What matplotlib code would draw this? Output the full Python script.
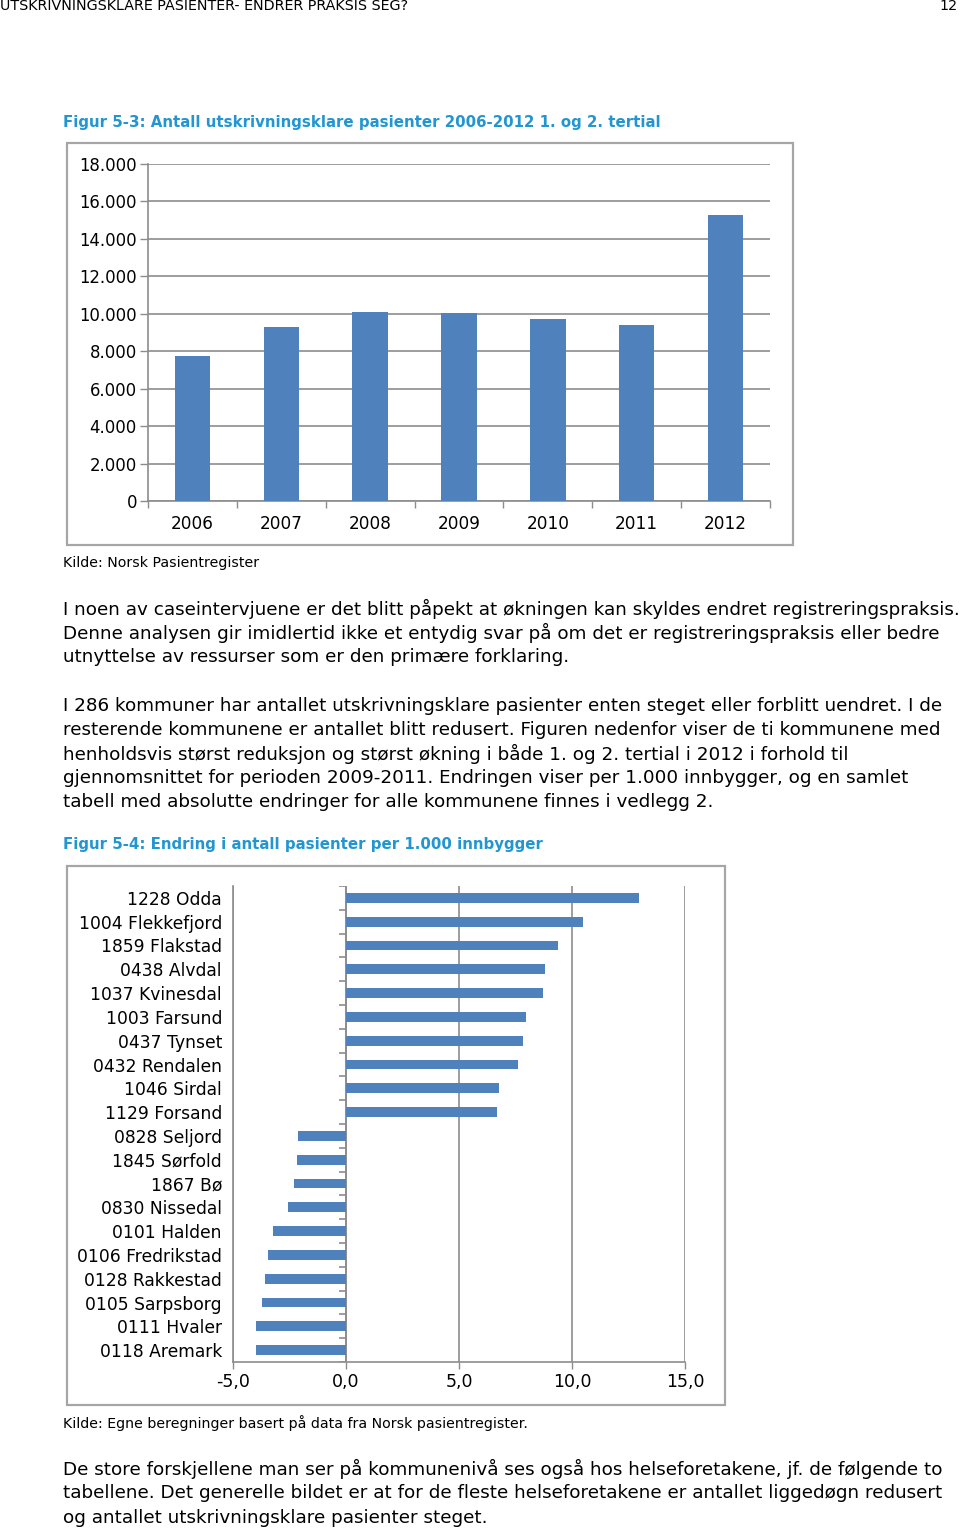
import numpy as np
import matplotlib.pyplot as plt
from matplotlib.patches import Rectangle

# data: figur 5-3
years = ["2006", "2007", "2008", "2009", "2010", "2011", "2012"]
pasienter = [7770, 9320, 10120, 10030, 9730, 9410, 15290]
y_ticks = [0, 2000, 4000, 6000, 8000, 10000, 12000, 14000, 16000, 18000]
y_ticklabels = ["0", "2.000", "4.000", "6.000", "8.000", "10.000",
                "12.000", "14.000", "16.000", "18.000"]

# data: figur 5-4
kommuner = ["1228 Odda", "1004 Flekkefjord", "1859 Flakstad", "0438 Alvdal",
            "1037 Kvinesdal", "1003 Farsund", "0437 Tynset", "0432 Rendalen",
            "1046 Sirdal", "1129 Forsand", "0828 Seljord", "1845 Sørfold",
            "1867 Bø", "0830 Nissedal", "0101 Halden", "0106 Fredrikstad",
            "0128 Rakkestad", "0105 Sarpsborg", "0111 Hvaler", "0118 Aremark"]
endring = [12.95, 10.5, 9.37, 8.82, 8.7, 7.96, 7.83, 7.63, 6.76, 6.68,
           -2.11, -2.18, -2.32, -2.58, -3.24, -3.45, -3.58, -3.72, -3.98, -3.98]
x_ticks = [-5, 0, 5, 10, 15]
x_ticklabels = ["-5,0", "0,0", "5,0", "10,0", "15,0"]

header = "UTSKRIVNINGSKLARE PASIENTER- ENDRER PRAKSIS SEG?"
fig1_title = "Figur 5-3: Antall utskrivningsklare pasienter 2006-2012 1. og 2. tertial"
fig2_title = "Figur 5-4: Endring i antall pasienter per 1.000 innbygger"
kilde1 = "Kilde: Norsk Pasientregister"
kilde2 = "Kilde: Egne beregninger basert på data fra Norsk pasientregister."
para1 = [
    "I noen av caseintervjuene er det blitt påpekt at økningen kan skyldes endret registreringspraksis.",
    "Denne analysen gir imidlertid ikke et entydig svar på om det er registreringspraksis eller bedre",
    "utnyttelse av ressurser som er den primære forklaring.",
]
para2 = [
    "I 286 kommuner har antallet utskrivningsklare pasienter enten steget eller forblitt uendret. I de",
    "resterende kommunene er antallet blitt redusert. Figuren nedenfor viser de ti kommunene med",
    "henholdsvis størst reduksjon og størst økning i både 1. og 2. tertial i 2012 i forhold til",
    "gjennomsnittet for perioden 2009-2011. Endringen viser per 1.000 innbygger, og en samlet",
    "tabell med absolutte endringer for alle kommunene finnes i vedlegg 2.",
]
para3 = [
    "De store forskjellene man ser på kommunenivå ses også hos helseforetakene, jf. de følgende to",
    "tabellene. Det generelle bildet er at for de fleste helseforetakene er antallet liggedøgn redusert",
    "og antallet utskrivningsklare pasienter steget.",
]

BLUE = "#4F81BD"
TITLE = "#2396D2"
GRID = "#8C8C8C"
FRAME = "#A6A6A6"
W, H = 960, 1529

plt.rcParams["font.family"] = ["DejaVu Sans"]
fig = plt.figure(figsize=(W / 100, H / 100), dpi=100)


def fx(x):
    return x / W


def fy(y):
    return 1 - y / H


def txt(x, y, s, **kw):
    fig.text(fx(x), fy(y), s, va="center", ha=kw.pop("ha", "left"), **kw)


def frame(x0, y0, x1, y1):
    fig.patches.append(Rectangle((fx(x0), fy(y1)), fx(x1) - fx(x0), fy(y0) - fy(y1),
                                 transform=fig.transFigure, fill=False,
                                 edgecolor=FRAME, lw=1.6))


# page text
txt(0, 6, header, fontsize=10.3)
txt(958, 6, "12", fontsize=10.3, ha="right")
txt(63, 122, fig1_title, fontsize=10.8, fontweight="bold", color=TITLE)
txt(63, 563, kilde1, fontsize=10.2)
for i, line in enumerate(para1):
    txt(63, 609 + 24.2 * i, line, fontsize=13.2)
for i, line in enumerate(para2):
    txt(63, 706 + 24.1 * i, line, fontsize=13.2)
txt(63, 845, fig2_title, fontsize=10.8, fontweight="bold", color=TITLE)
txt(63, 1423, kilde2, fontsize=10.2)
for i, line in enumerate(para3):
    txt(63, 1469 + 24.5 * i, line, fontsize=13.2)

# figur 5-3
frame(67, 143, 793, 545)
ax1 = fig.add_axes([fx(148), fy(501), fx(770) - fx(148), fy(164) - fy(501)])
xs = np.arange(len(years))
ax1.bar(xs, pasienter, width=0.4, color=BLUE, zorder=3)
ax1.set_xlim(-0.5, len(years) - 0.5)
ax1.set_ylim(0, 18000)
ax1.set_yticks(y_ticks)
ax1.set_yticklabels(y_ticklabels, fontsize=11.9)
ax1.set_xticks(xs)
ax1.set_xticklabels(years, fontsize=12.2)
ax1.tick_params(axis="x", length=0, pad=10)
ax1.set_xticks(np.arange(len(years) + 1) - 0.5, minor=True)
ax1.tick_params(axis="x", which="minor", length=5, color=GRID, width=1)
ax1.tick_params(axis="y", length=6, color=GRID, width=1, pad=2)
ax1.yaxis.grid(True, color=GRID, lw=1.2, zorder=0)
for s in ["top", "right"]:
    ax1.spines[s].set_visible(False)
for s in ["left", "bottom"]:
    ax1.spines[s].set_color(GRID)
    ax1.spines[s].set_linewidth(1.2)

# figur 5-4
frame(67, 866, 725, 1405)
ax2 = fig.add_axes([fx(233), fy(1362), fx(685) - fx(233), fy(886) - fy(1362)])
ys = np.arange(len(kommuner))
ax2.barh(ys, endring, height=0.42, color=BLUE, zorder=3)
ax2.set_ylim(len(kommuner) - 0.5, -0.5)
ax2.set_xlim(-5, 15)
ax2.set_xticks(x_ticks)
ax2.set_xticklabels(x_ticklabels, fontsize=12.5)
ax2.tick_params(axis="x", length=5, color=GRID, width=1, pad=3)
ax2.set_yticks(ys)
ax2.set_yticklabels(kommuner, fontsize=12.3)
ax2.tick_params(axis="y", length=0, pad=8)
ax2.xaxis.grid(True, color=GRID, lw=1.2, zorder=0)
# category axis at zero with boundary ticks
ax2.axvline(0, color=GRID, lw=1.2, zorder=2)
ax2.hlines(np.arange(len(kommuner) + 1) - 0.5, -0.3, 0, color=GRID, lw=1.2, zorder=2)
for s in ["top", "right"]:
    ax2.spines[s].set_visible(False)
for s in ["left", "bottom"]:
    ax2.spines[s].set_color(GRID)
    ax2.spines[s].set_linewidth(1.2)

fig.savefig("out.png", dpi=100)
plt.close(fig)
